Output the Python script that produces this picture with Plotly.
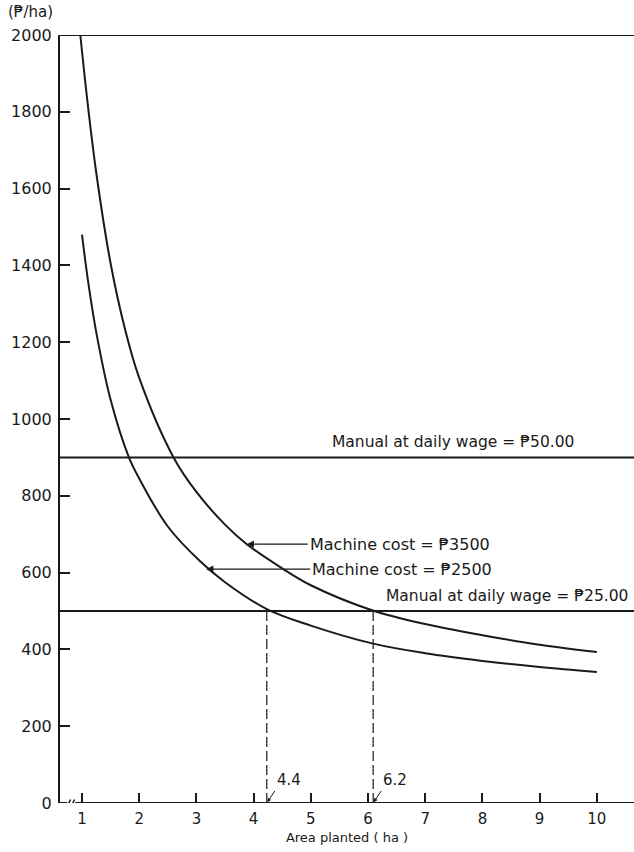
import plotly.graph_objects as go

# values
area_3500 = [0.97, 1.1, 1.25, 1.5, 1.75, 2.0, 2.6, 3.0, 3.5, 3.88, 4.5, 5.0, 6.07, 7.0, 8.0, 9.0, 10.0]
cost_3500 = [2000, 1820, 1640, 1405, 1235, 1107, 900, 810, 725, 674, 611, 567, 502, 466, 437, 412, 393]

area_2500 = [1.0, 1.1, 1.25, 1.5, 1.82, 2.0, 2.5, 3.06, 3.5, 4.23, 5.0, 6.09, 7.0, 8.0, 9.0, 10.0]
cost_2500 = [1480, 1365, 1225, 1050, 900, 845, 720, 630, 575, 505, 462, 415, 390, 370, 354, 341]

manual_wages = [900, 500]
manual_labels = ["Manual at daily wage = ₱50.00", "Manual at daily wage = ₱25.00"]

breakeven_x = [4.23, 6.09]
breakeven_labels = ["4.4", "6.2"]

y_ticks = list(range(0, 2001, 200))
x_ticks = list(range(1, 11))

INK = "#1a1a1a"
FONT = "DejaVu Sans"
X_MIN, X_MAX = 0.615, 10.65

fig = go.Figure()

# machine cost curves
for xs, ys in [(area_3500, cost_3500), (area_2500, cost_2500)]:
    fig.add_trace(go.Scatter(x=xs, y=ys, mode="lines",
                             line=dict(color=INK, width=2, shape="spline", smoothing=1.0),
                             showlegend=False, hoverinfo="skip"))

# manual cost lines
for w in manual_wages:
    fig.add_trace(go.Scatter(x=[X_MIN, X_MAX], y=[w, w], mode="lines",
                             line=dict(color=INK, width=2), showlegend=False, hoverinfo="skip"))

# break-even drops
for bx in breakeven_x:
    fig.add_trace(go.Scatter(x=[bx, bx], y=[0, manual_wages[1]], mode="lines",
                             line=dict(color=INK, width=1.2, dash="10px,4px"),
                             showlegend=False, hoverinfo="skip"))

# frame: top line, broken x-axis
fig.add_shape(type="line", x0=X_MIN, x1=X_MAX, y0=2000, y1=2000, line=dict(color=INK, width=2))
fig.add_shape(type="line", x0=X_MIN, x1=0.74, y0=0, y1=0, line=dict(color=INK, width=2))
fig.add_shape(type="line", x0=0.88, x1=X_MAX, y0=0, y1=0, line=dict(color=INK, width=2))
for sx in [0.74, 0.81]:
    fig.add_shape(type="line", x0=sx, x1=sx + 0.06, y0=-9, y1=9, line=dict(color=INK, width=1.5))

# labels for horizontal lines
fig.add_annotation(x=5.34, y=900, text=manual_labels[0], showarrow=False,
                   xanchor="left", yanchor="bottom", yshift=4, font=dict(size=15.5))
fig.add_annotation(x=6.28, y=500, text=manual_labels[1], showarrow=False,
                   xanchor="left", yanchor="bottom", yshift=4, font=dict(size=15.5))

# machine cost arrows
fig.add_annotation(x=3.88, y=674, text="Machine cost = ₱3500", showarrow=True,
                   ax=61, ay=0, xanchor="left", arrowhead=2, arrowsize=1.2,
                   arrowwidth=1.2, arrowcolor=INK, font=dict(size=16))
fig.add_annotation(x=3.17, y=609, text="Machine cost = ₱2500", showarrow=True,
                   ax=104, ay=0, xanchor="left", arrowhead=2, arrowsize=1.2,
                   arrowwidth=1.2, arrowcolor=INK, font=dict(size=16))

# break-even value labels
for bx, lab in zip(breakeven_x, breakeven_labels):
    fig.add_annotation(x=bx, y=0, text=lab, showarrow=True, ax=8, ay=-12,
                       xanchor="left", yanchor="bottom", arrowhead=2, arrowsize=0.8,
                       arrowwidth=1, arrowcolor=INK, standoff=1, font=dict(size=15))

# unit label
fig.add_annotation(x=0, y=1, xref="paper", yref="paper", xshift=-54, yshift=12,
                   text="(₱/ha)", showarrow=False, xanchor="left", yanchor="bottom",
                   font=dict(size=15))

fig.update_xaxes(range=[X_MIN, X_MAX], tickvals=x_ticks, ticks="inside", ticklen=10,
                 tickwidth=1.5, tickcolor=INK, showline=False, showgrid=False, zeroline=False,
                 ticklabelstandoff=5,
                 title=dict(text="Area planted ( ha )", font=dict(size=13), standoff=5),
                 tickfont=dict(size=15))
fig.update_yaxes(range=[0, 2000], tickvals=y_ticks, ticks="inside", ticklen=10,
                 tickwidth=1.5, tickcolor=INK, showline=True, linewidth=2, linecolor=INK,
                 ticklabelstandoff=3,
                 showgrid=False, zeroline=False, tickfont=dict(size=16))

fig.update_layout(width=634, height=852, margin=dict(l=60, r=0, t=35, b=49),
                  plot_bgcolor="white", paper_bgcolor="white",
                  font=dict(family=FONT, size=14, color=INK), showlegend=False)

fig.write_html("out.html", config={"displayModeBar": False},
               post_script="document.body.style.margin='0';")
